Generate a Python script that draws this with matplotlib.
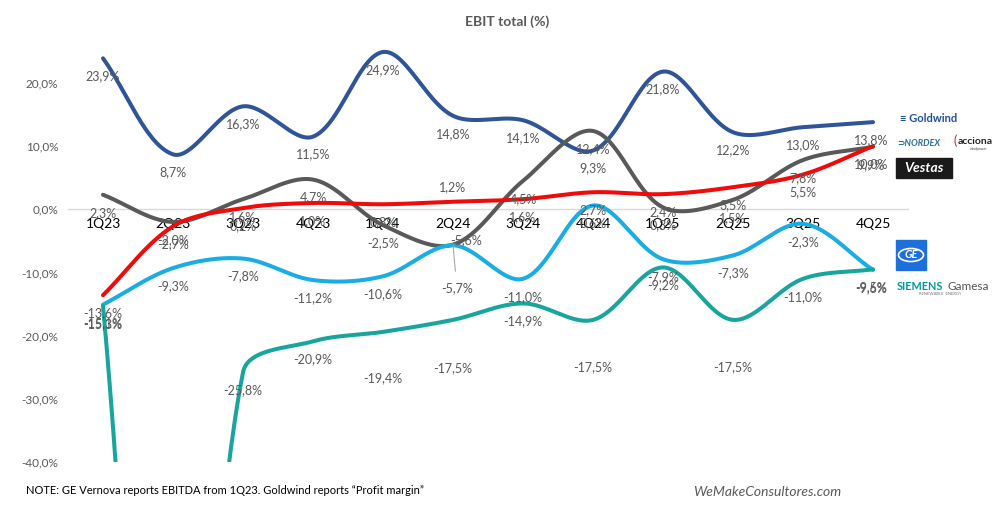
import numpy as np
import matplotlib
matplotlib.use("Agg")
import matplotlib.pyplot as plt
from matplotlib.patches import Rectangle, Circle

plt.rcParams['font.family'] = ['Lato', 'DejaVu Sans']

# --- datos (EBIT %, por trimestre) ---
quarters = ["1Q23", "2Q23", "3Q23", "4Q23", "1Q24", "2Q24", "3Q24", "4Q24",
            "1Q25", "2Q25", "3Q25", "4Q25"]
goldwind = [23.9, 8.7, 16.3, 11.5, 24.9, 14.8, 14.1, 9.3, 21.8, 12.2, 13.0, 13.8]
nordex = [2.3, -2.0, 1.6, 4.7, -2.5, -5.6, 4.5, 12.4, 0.3, 1.5, 7.8, 9.9]
vestas = [-13.6, -2.7, 0.2, 1.0, 0.8, 1.2, 1.6, 2.7, 2.4, 3.5, 5.5, 10.0]
ge_vernova = [-15.1, -9.3, -7.8, -11.2, -10.6, -5.7, -11.0, 0.6, -7.9, -7.3, -2.3, -9.6]
siemens_gamesa = [-15.3, -135.0, -25.8, -20.9, -19.4, -17.5, -14.9, -17.5, -9.2, -17.5, -11.0, -9.5]

series = [
    ("goldwind", goldwind, "#2F5597"),
    ("nordex", nordex, "#595959"),
    ("vestas", vestas, "#F00A0A"),
    ("ge", ge_vernova, "#1AADE3"),
    ("sgre", siemens_gamesa, "#17A59E"),
]

GREY = "#595959"
W, H = 1007, 525

# desplazamientos especiales de etiquetas (px: dx, dy hacia abajo)
label_shift = {
    ("sgre", 4): (0, 46), ("sgre", 5): (0, 48), ("sgre", 7): (0, 47),
    ("sgre", 9): (0, 47), ("ge", 5): (4, 43), ("nordex", 5): (13, -5),
    ("vestas", 5): (0, -15),
}


def smooth(xs, ys, kx, ky, n=60):
    # suavizado tipo Excel: Bezier con tangentes escaladas por la longitud
    # de los tramos en pantalla (kx, ky = px por unidad)
    pts = np.column_stack([np.asarray(xs) * kx, np.asarray(ys) * ky]).astype(float)
    pad = np.vstack([pts[0], pts, pts[-1]])
    out = []
    t = np.linspace(0, 1, n)[:, None]
    for i in range(len(pts) - 1):
        p0, p1, p2, p3 = pad[i], pad[i + 1], pad[i + 2], pad[i + 3]
        d01 = np.hypot(*(p1 - p0))
        d12 = np.hypot(*(p2 - p1))
        d23 = np.hypot(*(p3 - p2))
        f1 = d12 / (3 * (d01 + d12)) if d01 + d12 > 0 else 0
        f2 = d12 / (3 * (d12 + d23)) if d12 + d23 > 0 else 0
        c1 = p1 + (p2 - p0) * f1
        c2 = p2 - (p3 - p1) * f2
        seg = ((1 - t) ** 3) * p1 + 3 * ((1 - t) ** 2) * t * c1 + 3 * (1 - t) * t ** 2 * c2 + t ** 3 * p2
        out.append(seg if i == 0 else seg[1:])
    out = np.vstack(out)
    return out[:, 0] / kx, out[:, 1] / ky


def fx(x):
    return x / W


def fy(y):
    return 1 - y / H


fig = plt.figure(figsize=(W / 100, H / 100), dpi=100)
ax = fig.add_axes([fx(68), fy(462), fx(908) - fx(68), fy(40) - fy(462)])

x = np.arange(len(quarters))
ymin, ymax = -40, 26.8
kx = (908 - 68) / len(quarters)
ky = (462 - 40) / (ymax - ymin)

for name, vals, col in series:
    sx, sy = smooth(x, vals, kx, ky)
    ax.plot(sx, sy, color=col, lw=2.9, solid_capstyle='round', zorder=3)

for name, vals, col in series:
    for i, v in enumerate(vals):
        if v < ymin or v > ymax:
            continue
        dx, dy = label_shift.get((name, i), (0, 18))
        if i == len(vals) - 1:
            dx -= 2
        txt = f"{v:.1f}%".replace(".", ",")
        if (name, i) == ("ge", 5):
            ax.annotate(txt, (i, v), xytext=(dx * 0.72, -dy * 0.72), textcoords='offset points',
                        ha='center', va='center', fontsize=9, color=GREY, zorder=5,
                        arrowprops=dict(arrowstyle='-', color='#A6A6A6', lw=0.8,
                                        shrinkA=6, shrinkB=0))
        else:
            ax.annotate(txt, (i, v), xytext=(dx * 0.72, -dy * 0.72), textcoords='offset points',
                        ha='center', va='center', fontsize=9, color=GREY, zorder=5)

ax.set_xlim(-0.5, len(quarters) - 0.5)
ax.set_ylim(ymin, ymax)
ax.set_xticks(x)
ax.set_xticklabels(quarters, fontsize=9, color=GREY)
yt = [20, 10, 0, -10, -20, -30, -40]
ax.set_yticks(yt)
ax.set_yticklabels([f"{t:.1f}%".replace(".", ",") for t in yt], fontsize=8.5, color=GREY)
ax.tick_params(axis='both', length=0)
ax.tick_params(axis='y', pad=7)
ax.tick_params(axis='x', pad=6)
for s in ['top', 'right', 'left']:
    ax.spines[s].set_visible(False)
ax.spines['bottom'].set_position(('data', 0))
ax.spines['bottom'].set_color('#D9D9D9')
ax.spines['bottom'].set_linewidth(1)
ax.spines['bottom'].set_zorder(1)
ax.patch.set_alpha(0)

fig.text(fx(507), fy(22), "EBIT total (%)", ha='center', va='center',
         fontsize=10, fontweight='bold', color=GREY)
fig.text(fx(26), fy(491), "NOTE: GE Vernova reports EBITDA from 1Q23. Goldwind reports \u201cProfit margin\u201d",
         ha='left', va='center', fontsize=8, color='black')
fig.text(fx(767), fy(492), "WeMakeConsultores.com", ha='center', va='center',
         fontsize=10, style='italic', color=GREY)

# --- logos (aproximados con texto) ---
fig.text(fx(900), fy(119), "\u2261 Goldwind", ha='left', va='center', fontsize=8,
         fontweight='bold', color="#1F4E9A")
fig.text(fx(897), fy(143), "\u2283NORDEX", ha='left', va='center', fontsize=6.5,
         fontweight='bold', style='italic', color="#2A6E9C")
fig.text(fx(953), fy(141), "(", ha='left', va='center', fontsize=9, color="#D0202A")
fig.text(fx(958), fy(141), "acciona", ha='left', va='center', fontsize=7.5,
         fontweight='bold', color="#222222")
fig.text(fx(970), fy(149), "windpower", ha='left', va='center', fontsize=2.5, color="#444444")
fig.add_artist(Rectangle((fx(896), fy(178)), fx(952) - fx(896), fy(158) - fy(178),
                         transform=fig.transFigure, color="#1A1A1A"))
fig.text(fx(924), fy(168), "Vestas", ha='center', va='center', fontsize=10,
         fontweight='bold', style='italic', color='white')
fig.add_artist(Rectangle((fx(896), fy(270)), fx(926) - fx(896), fy(240) - fy(270),
                         transform=fig.transFigure, color="#1E6FD9"))
fig.add_artist(Circle((fx(911), fy(255)), 12.5 / W, transform=fig.transFigure,
                      fill=False, ec='white', lw=1.2))
fig.text(fx(911), fy(255), "GE", ha='center', va='center', fontsize=8,
         style='italic', fontweight='bold', color='white')
fig.text(fx(897), fy(286), "SIEMENS", ha='left', va='center', fontsize=7.8,
         fontweight='bold', color="#009999")
fig.text(fx(947), fy(286), "Gamesa", ha='left', va='center', fontsize=8.5, color="#555555")
fig.text(fx(940), fy(294), "RENEWABLE  ENERGY", ha='center', va='center', fontsize=3,
         color="#777777")

fig.savefig("out.png", dpi=100)
